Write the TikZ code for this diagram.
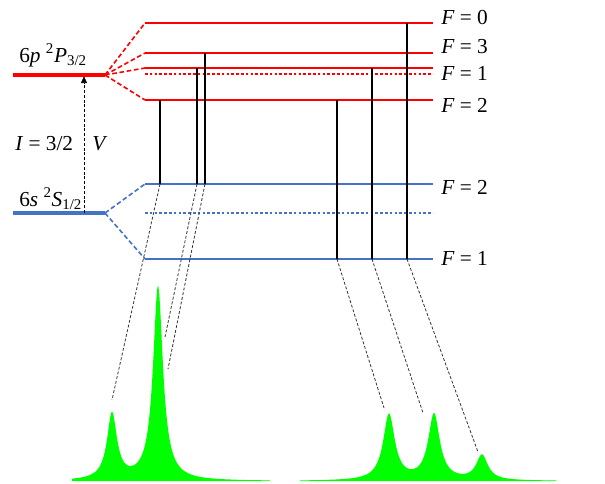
\documentclass[tikz,border=0pt]{standalone}
\usepackage{fontspec}
\setmainfont{Liberation Serif}
\usetikzlibrary{arrows.meta}
\definecolor{lvlred}{RGB}{255,0,0}
\definecolor{lvlblue}{RGB}{68,114,196}
\definecolor{specgreen}{RGB}{0,255,0}

\begin{document}
\begin{tikzpicture}[
    x=0.75pt, y=-0.75pt,
    every node/.style={font=\fontsize{16}{19}\selectfont, inner sep=0pt},
    mainP/.style={draw=lvlred, line width=2.6pt},
    mainS/.style={draw=lvlblue, line width=2.6pt},
    hfP/.style={draw=lvlred, line width=1.4pt},
    hfS/.style={draw=lvlblue, line width=1.4pt},
    fanP/.style={draw=lvlred, line width=1.2pt, dash pattern=on 3.5pt off 2pt},
    fanS/.style={draw=lvlblue, line width=1.2pt, dash pattern=on 3.5pt off 2pt},
    dotP/.style={draw=lvlred, line width=2pt, dash pattern=on 2pt off 1.6pt},
    dotS/.style={draw=lvlblue, line width=2pt, dash pattern=on 2pt off 1.6pt},
    trans/.style={draw=black, line width=1.5pt},
    guide/.style={draw=black!80, line width=0.6pt, dash pattern=on 2.2pt off 1.4pt},
    spec/.style={fill=specgreen, draw=none}
]
    \useasboundingbox (0,0) rectangle (605,483);

    % fine structure levels
    \coordinate (P) at (13,75);
    \coordinate (Pfan) at (105,75);
    \coordinate (S) at (13,213);
    \coordinate (Sfan) at (105,213);
    \coordinate (rx) at (433,0);

    % hyperfine levels
    \coordinate (p0) at (145,23);
    \coordinate (p3) at (145,53);
    \coordinate (p1) at (145,68);
    \coordinate (pc) at (145,74);
    \coordinate (p2) at (145,100);
    \coordinate (s2) at (145,184);
    \coordinate (sc) at (145,213);
    \coordinate (s1) at (145,259);

    \draw[mainP] (P) -- (Pfan);
    \draw[mainS] (S) -- (Sfan);
    \foreach \lv in {p0,p3,p1,p2} {
        \draw[fanP] (Pfan) -- (\lv);
        \draw[hfP] (\lv) -- (\lv -| rx);
    }
    \draw[dotP] (pc) -- (pc -| rx);
    \foreach \lv in {s2,s1} {
        \draw[fanS] (Sfan) -- (\lv);
        \draw[hfS] (\lv) -- (\lv -| rx);
    }
    \draw[dotS] (sc) -- (sc -| rx);

    \node[anchor=base west] (lblP) at (19,62) {6\textit{p} \textsuperscript{2}\textit{P}\textsubscript{3/2}};
    \node[anchor=base west] (lblS) at (19,206) {6\textit{s} \textsuperscript{2}\textit{S}\textsubscript{1/2}};

    \node[anchor=west] (lp0) at (441,18) {\textit{F} = 0};
    \node[anchor=west] (lp3) at (441,47) {\textit{F} = 3};
    \node[anchor=west] (lp1) at (441,73) {\textit{F} = 1};
    \node[anchor=west] (lp2) at (441,105) {\textit{F} = 2};
    \node[anchor=west] (ls2) at (441,187) {\textit{F} = 2};
    \node[anchor=west] (ls1) at (441,258) {\textit{F} = 1};

    % D2 excitation
    \coordinate (vI) at (84,213);
    \draw[-{Triangle[length=5pt,width=4.5pt]}, thin, dash pattern=on 2.2pt off 1.4pt] (vI) -- ([yshift=-1pt]vI |- P);
    \node[anchor=base west] (spin) at (15,150) {\textit{I} = 3/2};
    \node[anchor=base west] (volt) at (92,150) {\textit{V}};

    % allowed transitions
    \coordinate (t1) at (160,184);
    \coordinate (t2) at (197,184);
    \coordinate (t3) at (205,184);
    \coordinate (t4) at (337,259);
    \coordinate (t5) at (372,259);
    \coordinate (t6) at (407,259);
    \draw[trans] (t1 |- p2) -- (t1);
    \draw[trans] (t2 |- p1) -- (t2);
    \draw[trans] (t3 |- p3) -- (t3);
    \draw[trans] (t4 |- p2) -- (t4);
    \draw[trans] (t5 |- p1) -- (t5);
    \draw[trans] (t6 |- p0) -- (t6);

    % spectra
    \fill[spec] plot[domain=72:270, samples=400] (\x, {481-66/(1+((\x-112)/6)^2)-194/(1+((\x-158)/6)^2)}) -- (270,481) -- (72,481) -- cycle;
    \fill[spec] plot[domain=300:556, samples=400] (\x, {481-66/(1+((\x-389)/7)^2)-66/(1+((\x-434)/7)^2)-25/(1+((\x-482)/7)^2)}) -- (556,481) -- (300,481) -- cycle;

    \coordinate (g1) at (112,400);
    \coordinate (g2) at (165,337);
    \coordinate (g3) at (168,369);
    \coordinate (g4) at (384,408);
    \coordinate (g5) at (423,413);
    \coordinate (g6) at (478,452);
    \foreach \i in {1,...,6}
        \draw[guide] (t\i) -- (g\i);
\end{tikzpicture}
\end{document}
